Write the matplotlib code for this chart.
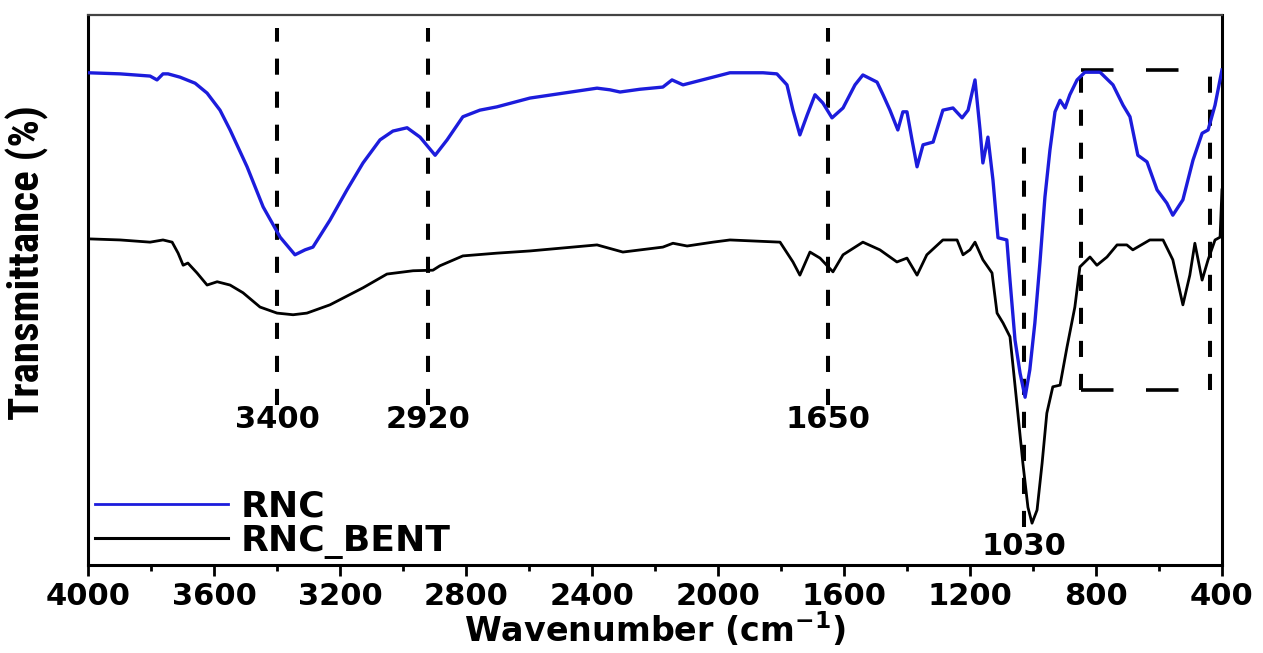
import matplotlib
matplotlib.use('Agg')
import matplotlib.pyplot as plt
import matplotlib.font_manager as fm
from matplotlib.ticker import MultipleLocator

# FTIR spectra, wavenumber (cm-1) vs transmittance (arb. %)
rnc_wn = [4000, 3898, 3803, 3781, 3762, 3746, 3708, 3660, 3622, 3581, 3549, 3495, 3444, 3390,
          3343, 3311, 3286, 3232, 3178, 3127, 3073, 3032, 2987, 2946, 2898, 2860, 2810, 2756,
          2702, 2597, 2384, 2343, 2311, 2248, 2175, 2146, 2111, 2016, 1962, 1857, 1813, 1781,
          1762, 1740, 1717, 1692, 1667, 1638, 1603, 1565, 1540, 1495, 1476, 1454, 1429, 1413,
          1400, 1384, 1368, 1349, 1317, 1286, 1254, 1225, 1206, 1184, 1168, 1159, 1143, 1127,
          1111, 1083, 1073, 1057, 1041, 1025, 1010, 994, 978, 962, 946, 930, 914, 898, 883,
          860, 835, 787, 746, 714, 692, 667, 638, 606, 575, 556, 524, 492, 463, 444, 422, 400]
rnc_t = [89.5, 89.3, 88.9, 88.2, 89.3, 89.3, 88.7, 87.6, 85.8, 82.7, 79.1, 72.4, 65.1, 59.6,
         56.4, 57.3, 57.8, 62.7, 68.2, 73.1, 77.3, 78.9, 79.5, 77.8, 74.5, 77.3, 81.5, 82.7,
         83.3, 84.9, 86.7, 86.4, 86.0, 86.5, 86.9, 88.2, 87.3, 88.7, 89.5, 89.5, 89.3, 87.3,
         82.7, 78.2, 81.8, 85.5, 84.0, 81.3, 83.1, 87.3, 89.1, 87.8, 85.5, 82.7, 79.1, 82.4,
         82.4, 77.3, 72.4, 76.4, 76.9, 82.7, 83.1, 81.3, 82.7, 88.2, 79.1, 73.1, 77.8, 70.0,
         59.5, 59.1, 51.8, 40.9, 34.9, 30.5, 35.5, 44.0, 54.9, 66.9, 75.5, 82.4, 84.5, 83.1, 85.5,
         88.2, 89.6, 89.6, 87.3, 83.6, 81.5, 74.5, 73.3, 68.2, 65.8, 63.6, 66.4, 73.6, 78.5, 79.1,
         83.6, 90.0]

bent_wn = [4000, 3898, 3803, 3762, 3733, 3714, 3698, 3683, 3654, 3622, 3590, 3549, 3508, 3454,
           3400, 3349, 3305, 3232, 3127, 3051, 2968, 2905, 2883, 2810, 2702, 2597, 2384, 2302,
           2175, 2143, 2098, 2016, 1962, 1803, 1762, 1740, 1708, 1676, 1635, 1603, 1540, 1486,
           1432, 1400, 1368, 1337, 1286, 1241, 1222, 1200, 1184, 1159, 1130, 1114, 1095, 1073,
           1063, 1048, 1032, 1016, 1003, 987, 971, 956, 937, 914, 892, 867, 851, 819, 797, 765,
           733, 702, 683, 629, 587, 556, 524, 502, 486, 463, 444, 422, 406, 400]
bent_t = [59.3, 59.1, 58.7, 59.1, 58.7, 56.7, 54.5, 54.9, 53.1, 50.9, 51.5, 50.9, 49.5, 46.9,
          45.8, 45.5, 45.8, 47.3, 50.4, 52.9, 53.5, 53.6, 54.4, 56.2, 56.7, 57.1, 58.2, 56.9,
          57.8, 58.5, 58.0, 58.7, 59.1, 58.7, 55.1, 52.7, 56.9, 55.8, 53.3, 56.4, 58.7, 57.3,
          55.1, 55.8, 52.7, 56.4, 59.1, 59.1, 56.4, 57.3, 58.7, 55.5, 53.1, 45.8, 44.0, 41.5,
          36.0, 27.6, 18.5, 10.5, 7.6, 10.0, 18.5, 27.6, 32.4, 32.7, 39.6, 46.9, 54.2, 56.0,
          54.5, 56.0, 58.2, 58.2, 57.3, 59.1, 59.1, 55.5, 47.3, 52.7, 58.5, 51.8, 55.5, 59.1,
          59.6, 68.2]

# marked bands
peak_wn = [3400, 2920, 1650, 1030]
peak_top = [97.6, 97.6, 97.6, 76.0]
peak_bottom = [29.1, 29.1, 29.1, 6.9]
peak_text_t = [26.4, 26.4, 26.4, 3.3]

# highlighted low-wavenumber region
box_wn = [848, 438]
box_t = [31.8, 90.0]

# narrow font for the y label if there is one
installed = {f.name for f in fm.fontManager.ttflist}
if 'Liberation Sans Narrow' in installed:
    yfam, ysize = 'Liberation Sans Narrow', 33
elif 'Roboto Condensed' in installed:
    yfam, ysize = 'Roboto Condensed', 31
else:
    yfam, ysize = 'Liberation Sans', 28

fig = plt.figure(figsize=(12.63, 6.53), dpi=100)
ax = fig.add_axes([0.0697, 0.1348, 0.8978, 0.8422])

ax.plot(rnc_wn, rnc_t, color='#1c1cdc', lw=2.4, label='RNC', zorder=3)
ax.plot(bent_wn, bent_t, color='black', lw=2.0, label='RNC_BENT', zorder=3)

for wn, top, bot, ty in zip(peak_wn, peak_top, peak_bottom, peak_text_t):
    ax.plot([wn, wn], [bot, top], color='black', lw=2.9, dashes=(4, 4.2), zorder=2)
    ax.text(wn, ty, str(wn), ha='center', va='center', fontsize=22, fontweight='bold')

# dashed box, longer dashes on the horizontal sides
ax.plot(box_wn, [box_t[1], box_t[1]], color='black', lw=2.6, dashes=(9, 9), zorder=2)
ax.plot(box_wn, [box_t[0], box_t[0]], color='black', lw=2.6, dashes=(9, 9), zorder=2)
ax.plot([box_wn[0], box_wn[0]], box_t, color='black', lw=2.9, dashes=(4, 4.2), zorder=2)
ax.plot([box_wn[1], box_wn[1]], box_t, color='black', lw=2.9, dashes=(4, 4.2), zorder=2)

ax.set_xlim(4000, 400)
ax.set_ylim(0, 100)
ax.xaxis.set_major_locator(MultipleLocator(400))
ax.xaxis.set_minor_locator(MultipleLocator(200))
ax.tick_params(axis='x', which='major', direction='out', length=8, width=2, pad=4,
               labelsize=22)
ax.tick_params(axis='x', which='minor', direction='out', length=4, width=2)
ax.set_yticks([])
for lab in ax.get_xticklabels():
    lab.set_fontweight('bold')
for side in ['left', 'bottom', 'right']:
    ax.spines[side].set_linewidth(2.2)
ax.spines['top'].set_linewidth(1.6)
ax.spines['top'].set_color('#444444')

ax.set_xlabel('Wavenumber (cm$^{\\mathbf{-1}}$)', fontsize=24, fontweight='bold', labelpad=0)
ax.set_ylabel('Transmittance (%)', fontsize=ysize, fontweight='bold', family=yfam)
ax.yaxis.set_label_coords(-0.034, 0.55)

leg = ax.legend(loc='lower left', bbox_to_anchor=(0.006, 0.011), frameon=False,
                prop={'weight': 'bold', 'size': 26}, handlelength=3.7,
                handletextpad=0.35, labelspacing=0.0, borderpad=0, borderaxespad=0)
leg.get_lines()[0].set_linewidth(2.0)
leg.get_lines()[1].set_linewidth(2.2)

fig.savefig('out.png', dpi=100)
